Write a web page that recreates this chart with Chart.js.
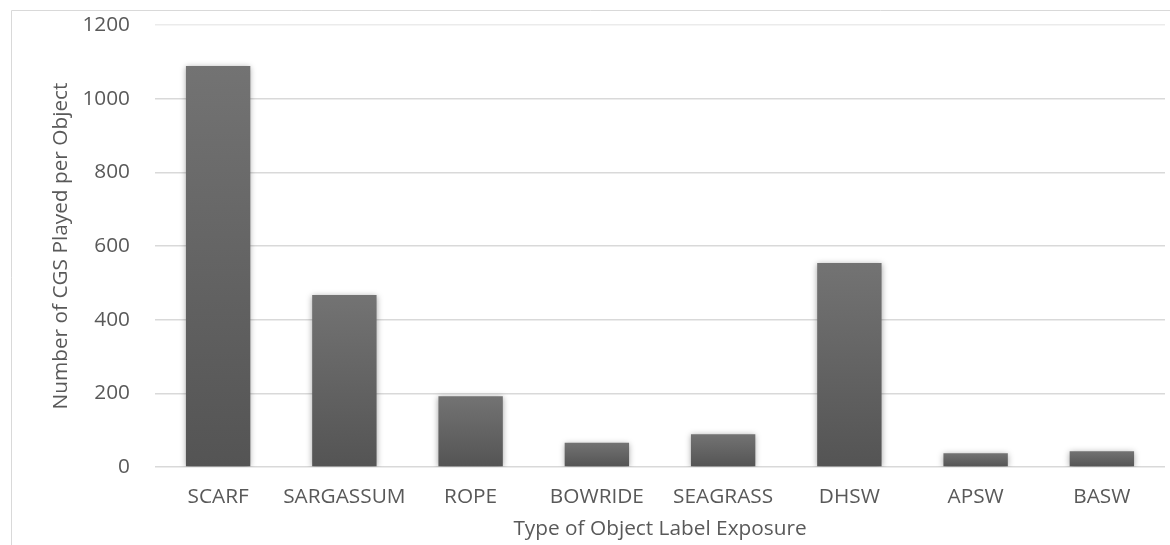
<!DOCTYPE html>
<html>
<head>
<meta charset="utf-8">
<title>Number of CGS Played per Object</title>
<script src="https://cdn.jsdelivr.net/npm/chart.js@4/dist/chart.umd.min.js"></script>
<style>
  html, body { margin: 0; padding: 0; background: #ffffff; }
  #wrap { position: relative; width: 1170px; height: 545px; }
  canvas { display: block; }
</style>
</head>
<body>
<div id="wrap"><canvas id="chart" width="1170" height="545"></canvas></div>
<script>
// Object types and how many CGS were played for each
const categories = ['SCARF', 'SARGASSUM', 'ROPE', 'BOWRIDE', 'SEAGRASS', 'DHSW', 'APSW', 'BASW'];
const cgsPlayed = [1089, 467, 192, 66, 89, 554, 37, 43];
const yTicks = [0, 200, 400, 600, 800, 1000, 1200];

const xTitle = 'Type of Object Label Exposure';
const yTitle = 'Number of CGS Played per Object';

const textColor = '#595959';
const fontFamily = '"Open Sans", "Liberation Sans", sans-serif';
const fontSize = 20.8;

// Thin frame along the top and left of the chart
const framePlugin = {
  id: 'frame',
  beforeDraw(chart) {
    const ctx = chart.ctx;
    ctx.save();
    ctx.strokeStyle = '#d9d9d9';
    ctx.lineWidth = 1;
    ctx.beginPath();
    ctx.moveTo(11.5, chart.height);
    ctx.lineTo(11.5, 10.5);
    ctx.lineTo(chart.width, 10.5);
    ctx.stroke();
    ctx.restore();
  }
};

// Soft drop shadow under the bars
const shadowPlugin = {
  id: 'barShadow',
  beforeDatasetsDraw(chart) {
    const ctx = chart.ctx;
    ctx.save();
    ctx.shadowColor = 'rgba(0,0,0,0.35)';
    ctx.shadowBlur = 6;
    ctx.shadowOffsetX = 0;
    ctx.shadowOffsetY = 1;
  },
  afterDatasetsDraw(chart) {
    chart.ctx.restore();
  }
};

function barGradient(context) {
  const chart = context.chart;
  const yScale = chart.scales.y;
  if (!chart.chartArea || !yScale) return '#5f5f5f';
  const top = yScale.getPixelForValue(context.raw);
  const bottom = yScale.getPixelForValue(0);
  const g = chart.ctx.createLinearGradient(0, top, 0, bottom);
  g.addColorStop(0, '#737373');
  g.addColorStop(1, '#545454');
  return g;
}

new Chart(document.getElementById('chart'), {
  type: 'bar',
  data: {
    labels: categories,
    datasets: [{
      data: cgsPlayed,
      backgroundColor: barGradient,
      borderWidth: 0,
      barPercentage: 1,
      categoryPercentage: 0.51
    }]
  },
  options: {
    responsive: false,
    animation: false,
    devicePixelRatio: 1,
    layout: { padding: { left: 0, top: 25, right: 5, bottom: 0 } },
    plugins: {
      legend: { display: false },
      tooltip: { enabled: false },
      title: { display: false }
    },
    scales: {
      x: {
        grid: { display: false, drawTicks: false },
        border: { display: false },
        ticks: {
          color: textColor,
          font: { family: fontFamily, size: fontSize },
          padding: 18,
          maxRotation: 0,
          autoSkip: false
        },
        title: {
          display: true,
          text: xTitle,
          color: textColor,
          font: { family: fontFamily, size: fontSize },
          padding: { top: 0, bottom: 3 }
        },
        afterFit(scale) { scale.height = 78; }
      },
      y: {
        min: 0,
        max: 1200,
        afterBuildTicks(scale) { scale.ticks = yTicks.map(v => ({ value: v })); },
        grid: {
          drawTicks: false,
          lineWidth: 1.5,
          color: ctx => (ctx.tick && ctx.tick.value === 1200) ? '#ebebeb' : '#d9d9d9'
        },
        border: { display: false },
        ticks: {
          color: textColor,
          font: { family: fontFamily, size: fontSize },
          padding: 25,
          callback: v => String(v)
        },
        title: {
          display: true,
          text: yTitle,
          color: textColor,
          font: { family: fontFamily, size: fontSize },
          padding: { top: 49, bottom: 0 }
        },
        afterFit(scale) {
          scale.width = 155;
          scale.paddingTop = 0;
          scale.paddingBottom = 0;
        }
      }
    }
  },
  plugins: [framePlugin, shadowPlugin]
});
</script>
</body>
</html>
